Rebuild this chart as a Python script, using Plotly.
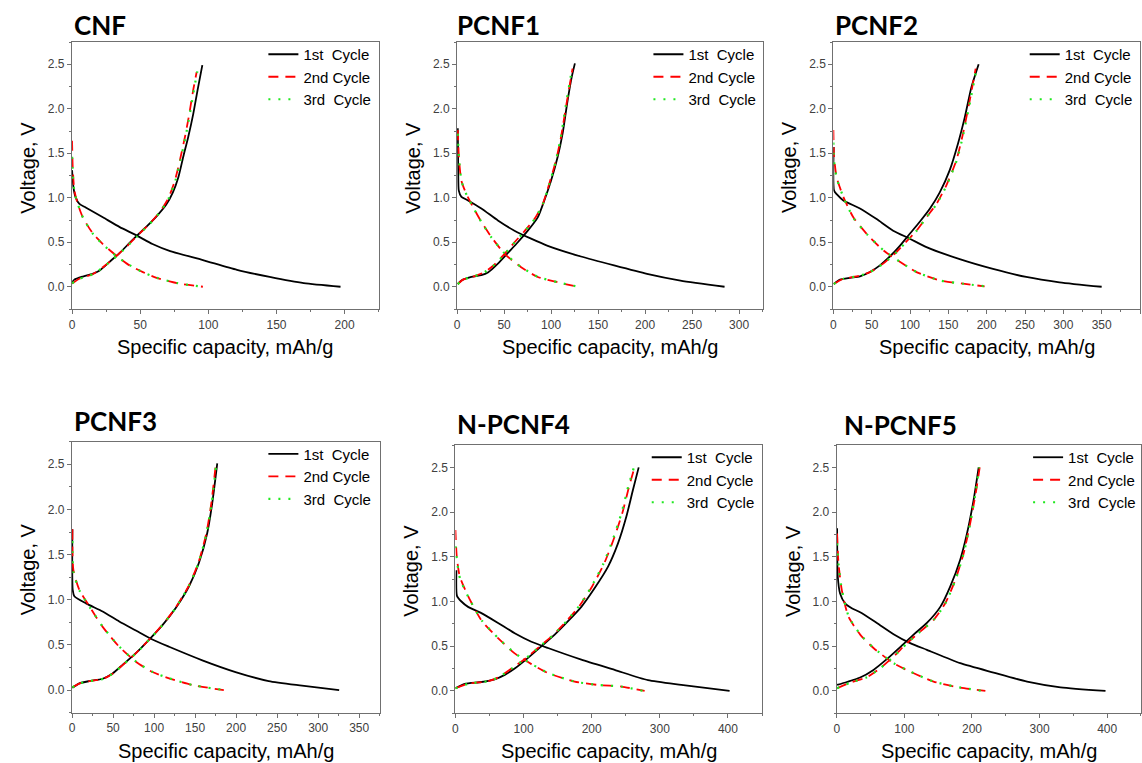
import plotly.graph_objects as go

# %% data: (specific capacity mAh/g, voltage V)
CNF_DIS1 = [(0, 1.31), (1, 1.12), (2.5, 1.01), (5.4, 0.93), (10, 0.89), (22.6, 0.78), (35, 0.67), (47, 0.58),
            (59, 0.48), (72, 0.40), (96, 0.30), (121, 0.19), (145, 0.11), (170, 0.04), (197, 0.0)]
CNF_CHG1 = [(0, 0.05), (1.7, 0.08), (8, 0.115), (15, 0.145), (20, 0.18), (27.5, 0.28), (35, 0.38), (42, 0.49),
            (48, 0.58), (55, 0.68), (62, 0.79), (69, 0.92), (74, 1.06), (78, 1.23), (81.6, 1.46), (85.2, 1.68),
            (88.9, 1.94), (92.1, 2.21), (95.6, 2.49)]
CNF_DIS2 = [(0, 1.64), (0.5, 1.34), (1.7, 1.08), (4.2, 0.93), (7.9, 0.78), (15.2, 0.60), (22.6, 0.48), (32.4, 0.35),
            (42.2, 0.24), (52, 0.165), (62, 0.10), (77, 0.04), (96, 0.0)]
CNF_CHG2 = [(0, 0.035), (5.4, 0.09), (15, 0.14), (22.6, 0.22), (30, 0.31), (40, 0.45), (47, 0.56), (57, 0.71),
            (64.4, 0.84), (70.5, 0.99), (75.4, 1.19), (79.1, 1.42), (82.8, 1.68), (86, 1.94), (88.9, 2.21), (91.4, 2.41)]
CNF_DIS3 = [(0, 1.46), (0.6, 1.25), (1.8, 1.06), (4.4, 0.92), (8.2, 0.77), (15.5, 0.59), (23, 0.47), (32.8, 0.34),
            (42.5, 0.24), (52.5, 0.16), (62.5, 0.10), (77.5, 0.04), (95.8, 0.0)]
CNF_CHG3 = [(0, 0.04), (5.6, 0.09), (15.4, 0.14), (22.8, 0.22), (30.2, 0.31), (40.2, 0.45), (47.3, 0.56), (57.2, 0.71),
            (64.6, 0.84), (70.8, 0.99), (75.8, 1.19), (79.5, 1.42), (83.2, 1.68), (86.4, 1.94), (89.4, 2.21), (91.9, 2.42)]

P1_DIS1 = [(0.7, 1.78), (1.2, 1.30), (1.8, 1.08), (4.6, 1.01), (11.6, 0.97), (25.8, 0.88), (43.4, 0.745), (61, 0.63),
           (78.7, 0.54), (96.4, 0.46), (131.7, 0.34), (167, 0.24), (202, 0.146), (237.6, 0.07), (284.5, 0.0)]
P1_CHG1 = [(0.7, 0.03), (4.6, 0.07), (15.2, 0.11), (25.8, 0.13), (32.8, 0.16), (43.4, 0.26), (54, 0.38), (64.6, 0.50),
           (75.2, 0.63), (85.8, 0.78), (92.8, 0.97), (99.9, 1.19), (107, 1.46), (112.2, 1.72), (117.5, 2.09),
           (121.8, 2.35), (125.3, 2.51)]
P1_DIS2 = [(0.7, 1.76), (2.1, 1.42), (4.6, 1.19), (9.9, 1.04), (15.2, 0.93), (25.8, 0.73), (36.4, 0.56), (50.5, 0.37),
           (68.1, 0.22), (85.8, 0.11), (107, 0.05), (128.1, 0.0)]
P1_CHG2 = [(0.7, 0.03), (6.4, 0.08), (18.7, 0.12), (29.3, 0.165), (39.9, 0.25), (50.5, 0.37), (61.1, 0.50),
           (71.7, 0.625), (82.2, 0.76), (91.1, 0.93), (98.1, 1.16), (105.2, 1.42), (110.5, 1.68), (115.8, 2.02),
           (120, 2.28), (122.8, 2.45)]
P1_DIS3 = [(0.7, 1.72), (2.3, 1.40), (4.9, 1.18), (10.2, 1.03), (15.6, 0.92), (26.2, 0.72), (36.8, 0.55), (51, 0.37),
           (68.5, 0.22), (86.3, 0.11), (107.5, 0.05), (128.8, 0.0)]
P1_CHG3 = [(0.7, 0.03), (6.6, 0.08), (18.9, 0.12), (29.5, 0.165), (40.1, 0.25), (50.7, 0.37), (61.3, 0.50),
           (71.9, 0.625), (82.4, 0.76), (91.3, 0.93), (98.3, 1.16), (105.2, 1.42), (110.3, 1.68), (115.4, 2.02),
           (119.5, 2.28), (122.1, 2.44)]

P2_DIS1 = [(0.4, 1.57), (0.9, 1.08), (4.3, 1.04), (13, 0.97), (34.7, 0.88), (56.4, 0.76), (78, 0.63), (99.7, 0.54),
           (121.4, 0.445), (164.8, 0.31), (208.2, 0.20), (251.5, 0.11), (294.9, 0.05), (350, 0.0)]
P2_CHG1 = [(0.4, 0.03), (8.7, 0.08), (21.7, 0.10), (34.7, 0.116), (47.7, 0.165), (60.7, 0.24), (73.7, 0.34),
           (86.7, 0.46), (99.7, 0.595), (112.7, 0.73), (125.8, 0.876), (138.8, 1.06), (151.8, 1.31), (162.6, 1.61),
           (171.3, 1.90), (180, 2.24), (189.5, 2.50)]
P2_DIS2 = [(0, 1.76), (0.9, 1.46), (4.3, 1.23), (13, 1.01), (26, 0.78), (43.4, 0.595), (65, 0.41), (86.7, 0.28),
           (108.4, 0.165), (138.8, 0.07), (169, 0.034), (197.3, 0.004)]
P2_CHG2 = [(0.4, 0.03), (13, 0.09), (30.4, 0.116), (47.7, 0.165), (65, 0.26), (82.4, 0.39), (95.4, 0.51),
           (108.4, 0.63), (121.4, 0.78), (134.4, 0.93), (147.4, 1.14), (160.4, 1.42), (169.1, 1.72), (177.8, 2.09),
           (185.6, 2.45)]
P2_DIS3 = [(0, 1.62), (1.0, 1.40), (4.6, 1.21), (13.4, 1.0), (26.4, 0.77), (43.8, 0.59), (65.4, 0.41), (87, 0.28),
           (108.8, 0.165), (139.2, 0.07), (169.5, 0.034), (198.6, 0.004)]
P2_CHG3 = [(0.4, 0.03), (13.2, 0.09), (30.6, 0.116), (47.9, 0.165), (65.2, 0.26), (82.6, 0.39), (95.6, 0.51),
           (108.6, 0.63), (121.6, 0.78), (134.7, 0.93), (147.8, 1.14), (160.9, 1.42), (169.7, 1.72), (178.6, 2.09),
           (187.3, 2.47)]

P3_DIS1 = [(0.4, 1.78), (0.8, 1.11), (2.8, 1.04), (17, 0.96), (37.3, 0.87), (57.5, 0.76), (77.8, 0.66), (98, 0.56),
           (118.3, 0.48), (158.8, 0.33), (199.3, 0.20), (239.8, 0.10), (280.3, 0.05), (325.6, 0.0)]
P3_CHG1 = [(0.4, 0.026), (8.9, 0.074), (21, 0.10), (37.3, 0.126), (49.4, 0.185), (61.6, 0.28), (77.8, 0.41),
           (94, 0.56), (110.2, 0.72), (126.4, 0.91), (142.6, 1.15), (154.7, 1.41), (164.8, 1.74), (170.9, 2.07),
           (177, 2.51)]
P3_DIS2 = [(0.4, 1.78), (1.6, 1.33), (8.9, 1.11), (21, 0.93), (37.3, 0.70), (57.5, 0.48), (77.8, 0.315), (98, 0.20),
           (118.3, 0.13), (146.6, 0.056), (185, 0.0)]
P3_CHG2 = [(0.4, 0.03), (9.5, 0.075), (21.5, 0.10), (37.8, 0.125), (49.8, 0.185), (62, 0.28), (78, 0.41), (94, 0.56),
           (110, 0.72), (126, 0.91), (142, 1.15), (154, 1.41), (163.8, 1.74), (169.8, 2.07), (175, 2.48)]
P3_DIS3 = [(0.4, 1.65), (1.8, 1.30), (9.2, 1.10), (21.4, 0.92), (37.6, 0.70), (57.8, 0.48), (78, 0.315), (98.4, 0.20),
           (118.8, 0.13), (147, 0.056), (186.3, 0.0)]
P3_CHG3 = [(0.4, 0.03), (9.7, 0.075), (21.7, 0.10), (38, 0.125), (50, 0.185), (62.2, 0.28), (78.2, 0.41), (94.2, 0.56),
           (110.3, 0.72), (126.3, 0.91), (142.3, 1.15), (154.3, 1.41), (164, 1.74), (170.2, 2.07), (175.6, 2.49)]

P4_DIS1 = [(1.5, 1.35), (2.4, 1.06), (8.8, 1.0), (18.6, 0.94), (38.1, 0.87), (62.6, 0.76), (87, 0.645), (111.5, 0.55),
           (135.9, 0.48), (184.8, 0.35), (233.7, 0.235), (282.6, 0.12), (331.5, 0.067), (402.4, 0.0)]
P4_CHG1 = [(0, 0.03), (13.7, 0.08), (38.1, 0.10), (57.7, 0.13), (72.4, 0.18), (87, 0.25), (106.6, 0.37),
           (126.2, 0.50), (145.7, 0.63), (165.3, 0.78), (184.8, 0.94), (204.4, 1.15), (224, 1.39), (238.6, 1.65),
           (250.9, 1.95), (260.6, 2.25), (269, 2.50)]
P4_DIS2 = [(0, 1.80), (2, 1.50), (6.4, 1.28), (18.6, 1.06), (38.1, 0.79), (62.6, 0.59), (87, 0.42), (111.5, 0.30),
           (135.9, 0.20), (175, 0.104), (209.3, 0.067), (243.5, 0.049), (277.7, 0.0)]
P4_CHG2 = [(0, 0.03), (18.6, 0.08), (47.9, 0.11), (62.6, 0.15), (82.2, 0.25), (104, 0.37), (124, 0.50), (144, 0.63),
           (163, 0.78), (182, 0.95), (200, 1.16), (218, 1.42), (232, 1.69), (245, 1.99), (255, 2.29), (263, 2.50)]
P4_DIS3 = [(0, 1.62), (2.4, 1.45), (7, 1.25), (19, 1.05), (38.5, 0.79), (63, 0.59), (87.5, 0.42), (112, 0.30),
           (136.4, 0.20), (175.5, 0.104), (209.8, 0.067), (244, 0.049), (275.5, 0.0)]
P4_CHG3 = [(0, 0.03), (19, 0.08), (48.2, 0.11), (63, 0.15), (82.6, 0.25), (104.3, 0.37), (124.3, 0.50), (144.2, 0.63),
           (163, 0.78), (181.5, 0.95), (199.2, 1.16), (217, 1.42), (230.8, 1.69), (243.8, 1.99), (253.8, 2.29),
           (262, 2.50)]

P5_DIS1 = [(0.5, 1.82), (1.5, 1.28), (4.9, 1.09), (12.3, 0.98), (22.2, 0.925), (34.6, 0.88), (59.3, 0.76),
           (84, 0.635), (108.6, 0.535), (133.3, 0.46), (182.7, 0.31), (232, 0.205), (281.5, 0.104), (330.9, 0.04),
           (397.5, 0.0)]
P5_CHG1 = [(0.5, 0.067), (14.8, 0.10), (34.6, 0.15), (54.3, 0.235), (74, 0.355), (93.8, 0.49), (113.6, 0.63),
           (133.3, 0.76), (153.1, 0.94), (167.9, 1.17), (182.7, 1.47), (192.6, 1.76), (202.5, 2.14), (209.9, 2.50)]
P5_DIS2 = [(0.5, 1.76), (2.5, 1.43), (7.4, 1.13), (17.3, 0.83), (34.6, 0.63), (54.3, 0.48), (84, 0.31),
           (108.6, 0.216), (143.2, 0.104), (182.7, 0.037), (219.8, 0.0)]
P5_CHG2 = [(0.5, 0.03), (19.8, 0.093), (44.4, 0.153), (64.2, 0.254), (84, 0.384), (103.7, 0.534), (123.5, 0.664),
           (143.2, 0.795), (160.5, 0.98), (175.3, 1.24), (187.7, 1.54), (197.5, 1.88), (206.4, 2.25), (211.4, 2.50)]
P5_DIS3 = [(0.5, 1.65), (2.8, 1.40), (7.8, 1.12), (17.8, 0.83), (35, 0.63), (54.8, 0.48), (84.4, 0.31), (109, 0.216),
           (143.6, 0.104), (183, 0.037), (217, 0.0)]
P5_CHG3 = [(0.5, 0.03), (20, 0.093), (44.6, 0.153), (64.4, 0.254), (84.2, 0.384), (104, 0.534), (123.7, 0.664),
           (143.4, 0.795), (160.7, 0.98), (175.5, 1.24), (187.8, 1.54), (197.5, 1.88), (206, 2.25), (210.5, 2.50)]

SAMPLES = ["CNF", "PCNF1", "PCNF2", "PCNF3", "N-PCNF4", "N-PCNF5"]
CYCLES = [
    [(CNF_DIS1, CNF_CHG1), (CNF_DIS2, CNF_CHG2), (CNF_DIS3, CNF_CHG3)],
    [(P1_DIS1, P1_CHG1), (P1_DIS2, P1_CHG2), (P1_DIS3, P1_CHG3)],
    [(P2_DIS1, P2_CHG1), (P2_DIS2, P2_CHG2), (P2_DIS3, P2_CHG3)],
    [(P3_DIS1, P3_CHG1), (P3_DIS2, P3_CHG2), (P3_DIS3, P3_CHG3)],
    [(P4_DIS1, P4_CHG1), (P4_DIS2, P4_CHG2), (P4_DIS3, P4_CHG3)],
    [(P5_DIS1, P5_CHG1), (P5_DIS2, P5_CHG2), (P5_DIS3, P5_CHG3)],
]
CYCLE_NAMES = ["1st\u00a0 Cycle", "2nd Cycle", "3rd\u00a0 Cycle"]
X_MAX = [225, 325, 400, 375, 450, 450]
X_DTICK = [50, 50, 50, 50, 100, 100]

# %% layout (pixels in a 1142x763 page)
W, H = 1142, 763
# x0, x1, y_top, y_bottom, title x offset, title centre y
BOXES = [
    (69.3, 377, 42, 309, 0, 25),
    (455.7, 762.3, 42, 309, -2, 25),
    (833.3, 1141, 42, 309, 0, 25),
    (69.3, 378, 441.7, 712.7, 0, 421),
    (454, 761.7, 445, 713.3, 0, 424),
    (836.7, 1142, 445, 713.3, 5, 425),
]
LINES = [
    dict(color="black", width=1.8),
    dict(color="#ff0000", width=1.8, dash="10px,7px"),
    dict(color="#1fe81f", width=2.2, dash="2px,8px"),
]
TICKFONT = dict(family="Liberation Sans, Arial", size=12, color="#404040")
AXISFONT = dict(family="Liberation Sans, Arial", size=20, color="black")

fig = go.Figure()
layout = dict(width=W, height=H, margin=dict(l=0, r=0, t=0, b=0),
              paper_bgcolor="white", plot_bgcolor="white", annotations=[])

for i, name in enumerate(SAMPLES):
    n = "" if i == 0 else str(i + 1)
    x0, x1, yt, yb, tdx, ty = BOXES[i]
    leg = "legend" + n
    for c, (dis, chg) in enumerate(CYCLES[i]):
        xs = [p[0] for p in dis] + [None] + [p[0] for p in chg]
        ys = [p[1] for p in dis] + [None] + [p[1] for p in chg]
        fig.add_trace(go.Scatter(x=xs, y=ys, mode="lines", name=CYCLE_NAMES[c],
                                 line=dict(LINES[c], shape="spline", smoothing=0.6),
                                 xaxis="x" + n, yaxis="y" + n, legend=leg, connectgaps=False))

    common = dict(showline=True, linecolor="#707070", linewidth=1.2, mirror=True, showgrid=False,
                  zeroline=False, ticks="outside", ticklen=4, tickcolor="#707070", tickfont=TICKFONT)
    layout["xaxis" + n] = dict(common, domain=[x0 / W, x1 / W], anchor="y" + n, range=[0, X_MAX[i]],
                               dtick=X_DTICK[i], tick0=0,
                               minor=dict(dtick=X_DTICK[i] / 2, ticks="outside", ticklen=2, tickcolor="#707070"))
    layout["yaxis" + n] = dict(common, domain=[1 - yb / H, 1 - yt / H], anchor="x" + n, range=[-0.25, 2.75],
                               dtick=0.5, tick0=0, tickformat=".1f",
                               minor=dict(dtick=0.25, ticks="outside", ticklen=2, tickcolor="#707070"))
    layout[leg] = dict(x=(x0 + 192) / W, xanchor="left", y=1 - (yt - 4) / H, yanchor="top",
                       bgcolor="rgba(0,0,0,0)", borderwidth=0, itemwidth=30, tracegroupgap=0,
                       font=dict(family="Liberation Sans, Arial", size=15, color="black"))

    w, h = x1 - x0, yb - yt
    layout["annotations"] += [
        dict(text="<b>%s</b>" % name, xref="x%s domain" % n, yref="paper", x=tdx / w, y=1 - ty / H,
             xanchor="left", yanchor="middle", showarrow=False,
             font=dict(family="Lato, Open Sans", size=26, color="black")),
        dict(text="Specific capacity, mAh/g", xref="x%s domain" % n, yref="y%s domain" % n, x=0.5,
             y=-38 / h, xanchor="center", yanchor="middle", showarrow=False, font=AXISFONT),
        dict(text="Voltage, V", xref="x%s domain" % n, yref="y%s domain" % n, x=-44 / w, y=0.53,
             xanchor="center", yanchor="middle", textangle=-90, showarrow=False, font=AXISFONT),
    ]

fig.update_layout(**layout)
# the page body has an 8px default margin; drop it so the figure sits at the window's corner
fig.write_html("out.html", config={"displayModeBar": False},
               post_script="document.body.style.margin='0';document.body.style.overflow='hidden';")
